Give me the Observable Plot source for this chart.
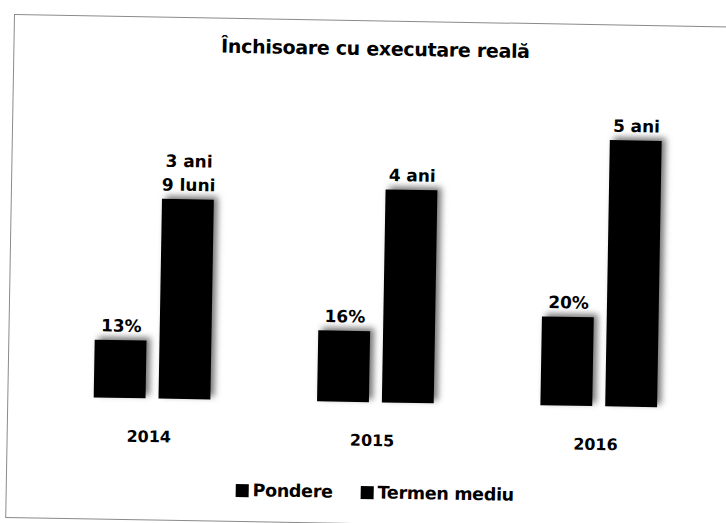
<!DOCTYPE html>
<html>
<head>
<meta charset="utf-8">
<script src="https://cdn.jsdelivr.net/npm/d3@7"></script>
<script src="https://cdn.jsdelivr.net/npm/@observablehq/plot@0.6"></script>
<style>
  html, body { margin: 0; padding: 0; background: #fff; width: 726px; height: 523px; overflow: hidden; }
  #frame {
    position: absolute; left: 14px; top: 14px; width: 730px; height: 504px;
    border: 1px solid #8a8a8a; box-sizing: border-box;
    transform: rotate(1deg); transform-origin: 0 0; background: #fff;
  }
  #title {
    position: absolute; left: 0; width: 722px; top: 16px; text-align: center;
    font: bold 19px "DejaVu Sans"; color: #000; letter-spacing: -0.3px; line-height: 22px;
  }
  #chart { position: absolute; left: 0; top: 0; }
  #legend {
    position: absolute; left: 0; width: 736px; top: 461px; display: flex; justify-content: center;
    font: bold 17.5px "DejaVu Sans"; color: #000; letter-spacing: -0.3px; line-height: 20px;
  }
  #legend .item { display: flex; align-items: center; margin: 0 14px; }
  #legend .sw { width: 13px; height: 13px; background: #000; margin-right: 4px; }
  [aria-label^="fx-axis"] text { font: bold 16px "DejaVu Sans"; fill: #000; }
</style>
</head>
<body>
<div id="frame">
  <div id="title">Închisoare cu executare reală</div>
  <div id="chart"></div>
  <div id="legend"></div>
</div>
<script>
const years = ["2014", "2015", "2016"];
const series = ["Pondere", "Termen mediu"];
const pondere = [13, 16, 20];            // %
const termenMediu = [45, 48, 60];        // luni
const pondereLabels = ["13%", "16%", "20%"];
const termenLabels = ["3 ani\n9 luni", "4 ani", "5 ani"];

const data = [];
years.forEach((y, i) => {
  data.push({year: y, series: series[0], value: pondere[i], label: pondereLabels[i]});
  data.push({year: y, series: series[1], value: termenMediu[i], label: termenLabels[i]});
});

const plot = Plot.plot({
  width: 730,
  height: 440,
  marginLeft: 31.4,
  marginRight: 24.8,
  marginTop: 115,
  marginBottom: 58,
  fx: {domain: years, paddingInner: 0.4746, paddingOuter: 0.2373, align: 0.5,
       label: null, tickSize: 0, tickPadding: 32, axis: "bottom"},
  x: {domain: series, paddingInner: 0.2, paddingOuter: 0, axis: null},
  y: {domain: [0, 60], axis: null},
  style: {background: "transparent", overflow: "visible"},
  marks: [
    Plot.barY(data, {fx: "year", x: "series", y: "value", fill: "#767676", dx: 4, dy: -3}),
    Plot.barY(data, {fx: "year", x: "series", y: "value", fill: "#000"}),
    Plot.text(data, {fx: "year", x: "series", y: "value", text: "label",
      lineAnchor: "bottom", dy: -9, fontSize: 17, fontWeight: "bold",
      fontFamily: "DejaVu Sans", fill: "#000", lineHeight: 1.4})
  ]
});
document.getElementById("chart").appendChild(plot);

// soft shadow for the first bar layer
d3.select(plot).selectAll('[fill="#767676"]').style("filter", "blur(3px)");
d3.select(plot).selectAll('[aria-label^="fx-axis"] text').attr("dx", -3);

const legend = d3.select("#legend");
series.forEach(s => {
  const it = legend.append("div").attr("class", "item");
  it.append("div").attr("class", "sw");
  it.append("span").text(s);
});
</script>
</body>
</html>
